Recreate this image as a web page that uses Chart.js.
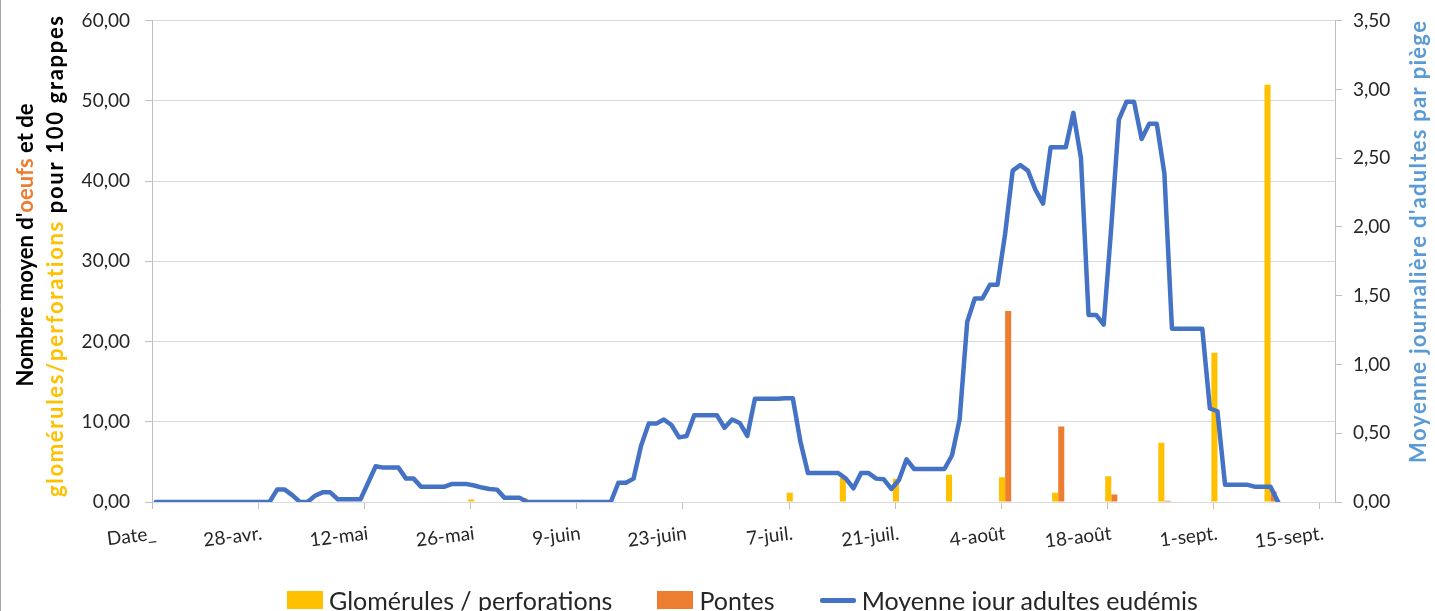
<!DOCTYPE html>
<html lang="fr">
<head>
<meta charset="UTF-8">
<title>Eudémis - pontes et glomérules</title>
<script src="https://cdn.jsdelivr.net/npm/chart.js"></script>
<style>
    html, body { margin: 0; padding: 0; background: #fff; }
    #wrap { position: relative; width: 1435px; height: 611px; overflow: hidden; }
    #legende {
        position: absolute; left: 287px; top: 585px;
        display: flex; gap: 45px;
        font: 25px Lato, sans-serif; color: #262626; line-height: 30px; white-space: nowrap;
    }
    #legende .item { display: flex; align-items: center; }
    #legende .cle { display: inline-block; width: 36px; height: 18px; margin-right: 6px; }
    #legende .cle.ligne { height: 5px; border-radius: 2px; }
</style>
</head>
<body>
<div id="wrap">
    <canvas id="chart"></canvas>
    <div id="legende"></div>
</div>

<script>
    // axe des dates : un point par jour, une étiquette toutes les deux semaines
    const tickLabels = ['Date_', '28-avr.', '12-mai', '26-mai', '9-juin', '23-juin', '7-juil.',
                        '21-juil.', '4-août', '18-août', '1-sept.', '15-sept.'];
    const nbJours = 156;

    // moyenne jour adultes eudémis (axe de droite), jour 0 à 148
    const adultes = [
        0, 0, 0, 0, 0, 0, 0, 0, 0, 0,
        0, 0, 0, 0, 0, 0, 0.09, 0.09, 0.05, 0,
        0, 0.045, 0.07, 0.07, 0.02, 0.02, 0.02, 0.02, 0.14, 0.26,
        0.25, 0.25, 0.25, 0.17, 0.17, 0.11, 0.11, 0.11, 0.11, 0.13,
        0.13, 0.13, 0.12, 0.105, 0.095, 0.09, 0.03, 0.03, 0.03, 0,
        0, 0, 0, 0, 0, 0, 0, 0, 0, 0,
        0, 0.14, 0.14, 0.17, 0.41, 0.57, 0.57, 0.6, 0.56, 0.47,
        0.48, 0.63, 0.63, 0.63, 0.63, 0.54, 0.6, 0.575, 0.48, 0.75,
        0.75, 0.75, 0.75, 0.755, 0.755, 0.44, 0.21, 0.21, 0.21, 0.21,
        0.21, 0.17, 0.1, 0.21, 0.21, 0.17, 0.165, 0.095, 0.16, 0.31,
        0.24, 0.24, 0.24, 0.24, 0.24, 0.34, 0.6, 1.31, 1.48, 1.48,
        1.58, 1.58, 1.95, 2.41, 2.45, 2.41, 2.27, 2.17, 2.58, 2.58,
        2.58, 2.83, 2.5, 1.36, 1.36, 1.29, 2.0, 2.78, 2.91, 2.91,
        2.64, 2.75, 2.75, 2.39, 1.26, 1.26, 1.26, 1.26, 1.26, 0.68,
        0.66, 0.125, 0.125, 0.125, 0.125, 0.11, 0.11, 0.11, 0
    ];

    // relevés hebdomadaires (jour du relevé) pour 100 grappes
    const jourReleves = [42, 49, 56, 63, 70, 77, 84, 91, 98, 105, 112, 119, 126, 133, 140, 147];
    const glomerules  = [0.3, 0.5, 0, 0, 0, 0, 1.15, 3.0, 2.9, 3.4, 3.1, 1.15, 3.2, 7.4, 18.6, 52.0];
    const pontes      = [0, 0.2, 0, 0, 0, 0, 0, 0, 0, 0, 23.8, 9.4, 0.95, 0.15, 0, 1.3];

    const labels = Array.from({ length: nbJours }, (_, i) => i % 14 === 0 ? tickLabels[i / 14] : '');

    function serieReleves(vals) {
        const d = new Array(nbJours).fill(null);
        jourReleves.forEach((j, k) => { d[j] = vals[k]; });
        return d;
    }

    const fmt = v => Number(v).toFixed(2).replace('.', ',');

    // texte tourné de -90°, en morceaux de couleurs ; longueur imposée si besoin (espacement des lettres)
    function texteVertical(c, morceaux, x, yCentre, longueur) {
        const naturel = morceaux.reduce((s, m) => s + c.measureText(m[0]).width, 0);
        const nb = morceaux.reduce((s, m) => s + m[0].length, 0);
        const espace = longueur ? (longueur - naturel) / (nb - 1) : 0;
        const total = naturel + espace * (nb - 1);
        c.save();
        c.translate(x, yCentre);
        c.rotate(-Math.PI / 2);
        c.textBaseline = 'alphabetic';
        c.textAlign = 'left';
        let pos = -total / 2;
        for (const [t, col] of morceaux) {
            c.fillStyle = col;
            if (!espace) {
                c.fillText(t, pos, 0);
                pos += c.measureText(t).width;
                continue;
            }
            for (const ch of t) {
                c.fillText(ch, pos, 0);
                pos += c.measureText(ch).width + espace;
            }
        }
        c.restore();
    }

    // titres d'axes en plusieurs couleurs + bord gauche du cadre
    const titres = {
        id: 'titres',
        afterDraw(chart) {
            const c = chart.ctx;
            c.save();
            c.strokeStyle = '#A6A6A6';
            c.lineWidth = 1;
            c.beginPath();
            c.moveTo(0.5, 0);
            c.lineTo(0.5, chart.height);
            c.stroke();
            c.font = 'bold 22px Lato';
            texteVertical(c, [["Nombre moyen d'", '#000'], ['oeufs', '#ED7D31'], [' et de', '#000']], 33, 245);
            texteVertical(c, [['glomérules/perforations', '#FFC000'], [' pour 100 grappes', '#000']], 63, 257, 480);
            texteVertical(c, [["Moyenne journalière d'adultes par piège", '#5B9BD5']], 1426, 243, 440);
            c.restore();
        }
    };

    Chart.defaults.font.family = 'Lato';
    Chart.defaults.color = '#262626';

    const ctx = document.getElementById('chart').getContext('2d');
    const chart = new Chart(ctx, {
        type: 'bar',
        data: {
            labels: labels,
            datasets: [
                {
                    label: 'Glomérules / perforations',
                    data: serieReleves(glomerules),
                    backgroundColor: '#FFC000',
                    borderWidth: 0,
                    categoryPercentage: 1.6,
                    barPercentage: 1,
                    yAxisID: 'y',
                    order: 1
                },
                {
                    label: 'Pontes',
                    data: serieReleves(pontes),
                    backgroundColor: '#ED7D31',
                    borderWidth: 0,
                    categoryPercentage: 1.6,
                    barPercentage: 1,
                    yAxisID: 'y',
                    order: 1
                },
                {
                    type: 'line',
                    label: 'Moyenne jour adultes eudémis',
                    data: adultes,
                    borderColor: '#4472C4',
                    backgroundColor: '#4472C4',
                    borderWidth: 4.5,
                    borderJoinStyle: 'round',
                    borderCapStyle: 'round',
                    pointRadius: 0,
                    tension: 0,
                    yAxisID: 'y1',
                    order: 0
                }
            ]
        },
        options: {
            responsive: true,
            maintainAspectRatio: false,
            animation: false,
            layout: { padding: { top: 20, bottom: 0, left: 0, right: 0 } },
            plugins: {
                tooltip: { enabled: false },
                legend: { display: false }
            },
            scales: {
                x: {
                    offset: true,
                    grid: {
                        offset: true,
                        drawOnChartArea: false,
                        tickLength: 7,
                        color: c => c.index % 14 === 0 ? '#BFBFBF' : 'rgba(0,0,0,0)'
                    },
                    border: { color: '#D9D9D9' },
                    ticks: {
                        autoSkip: false,
                        minRotation: 7,
                        maxRotation: 7,
                        padding: 13,
                        font: { size: 19 }
                    },
                    afterFit: s => { s.height = 109; }
                },
                y: {
                    position: 'left',
                    min: 0,
                    max: 60,
                    grid: { color: '#D9D9D9', tickLength: 7, tickColor: '#BFBFBF' },
                    border: { color: '#BFBFBF' },
                    ticks: { stepSize: 10, padding: 15, font: { size: 19, lineHeight: 0.6 }, callback: fmt },
                    afterFit: s => { s.width = 152; }
                },
                y1: {
                    position: 'right',
                    min: 0,
                    max: 3.5,
                    grid: { drawOnChartArea: false, tickLength: 7, color: '#BFBFBF' },
                    border: { color: '#BFBFBF' },
                    ticks: { stepSize: 0.5, padding: 11, font: { size: 19, lineHeight: 0.6 }, callback: fmt },
                    afterFit: s => { s.width = 100; }
                }
            }
        },
        plugins: [titres]
    });

    // légende en HTML, construite à partir des séries du graphique
    const legende = document.getElementById('legende');
    chart.data.datasets.forEach(ds => {
        const item = document.createElement('span');
        item.className = 'item';
        const cle = document.createElement('i');
        cle.className = ds.type === 'line' ? 'cle ligne' : 'cle';
        cle.style.background = ds.type === 'line' ? ds.borderColor : ds.backgroundColor;
        item.appendChild(cle);
        item.appendChild(document.createTextNode(ds.label));
        legende.appendChild(item);
    });
</script>
</body>
</html>
